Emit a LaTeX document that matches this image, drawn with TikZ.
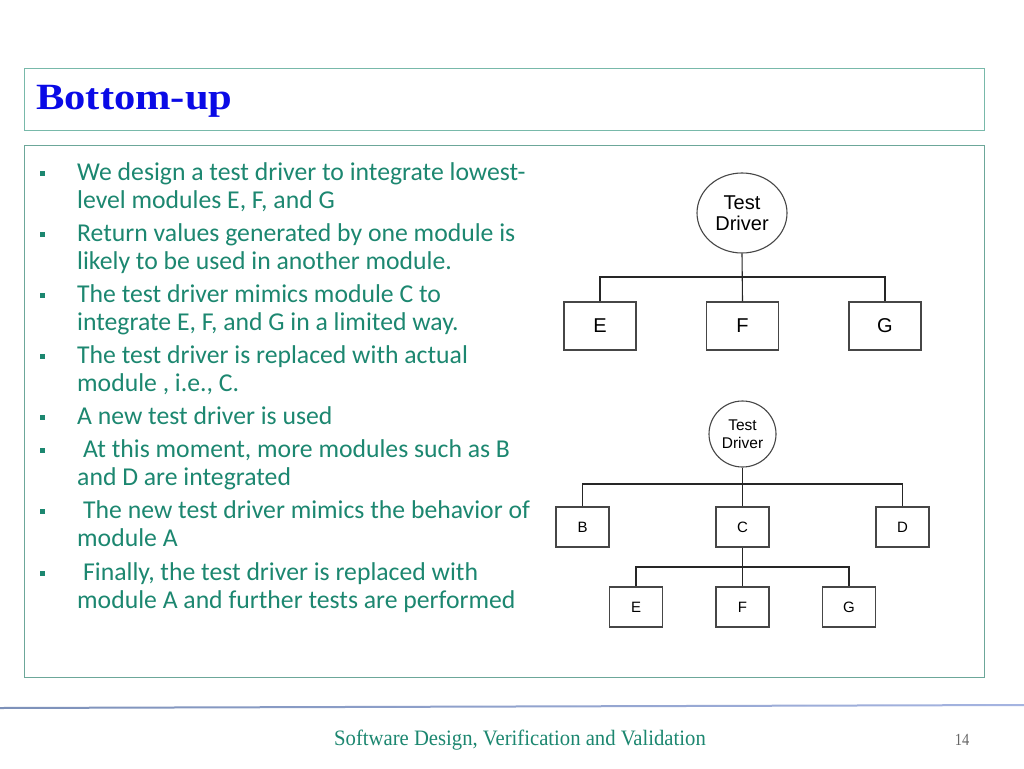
\documentclass[tikz,border=0pt]{standalone}
\usepackage{fontspec}
\setmainfont{Carlito}
\newfontfamily\titlefont{Liberation Serif}
\newfontfamily\diagfont{Liberation Sans}
\usetikzlibrary{shapes.geometric,positioning}

\definecolor{bodyteal}{RGB}{28,135,112}
\definecolor{framecol}{RGB}{120,185,170}
\definecolor{titleblue}{RGB}{10,10,230}
\definecolor{linegray}{RGB}{70,70,70}
\definecolor{rulel}{RGB}{125,145,185}
\definecolor{rulem}{RGB}{70,105,170}
\definecolor{ruler}{RGB}{165,180,225}

\tikzset{
  item/.style={anchor=base west, align=left, inner sep=0pt, text=bodyteal,
    font=\fontsize{25.7}{28}\selectfont},
  modbox/.style={draw=linegray, line width=1.3pt, inner sep=0pt, font=\diagfont},
  bigbox/.style={modbox, minimum width=72, minimum height=48, font=\diagfont\fontsize{20}{22}\selectfont},
  smallbox/.style={modbox, minimum width=53, minimum height=40, font=\diagfont\fontsize{15}{17}\selectfont},
  driver/.style={ellipse, draw=linegray, line width=1.1pt, inner sep=0pt, align=center},
  wire/.style={draw=black!85, line width=1.1pt}
}

\begin{document}
\begin{tikzpicture}[x=1pt,y=-1pt]
  \useasboundingbox (0,0) rectangle (1024,768);
  \fill[white] (0,0) rectangle (1024,768);

  % frames
  \draw[framecol, line width=1pt] (24,68) rectangle (984,130);
  \draw[framecol!90!black, line width=1pt] (24,145) rectangle (984,677);
  \node[anchor=base west, inner sep=0pt, text=titleblue, xscale=1.15,
    font=\titlefont\bfseries\fontsize{37}{40}\selectfont] (title) at (36,109) {Bottom-up};

  % bullets
  \foreach \y in {180,241,302,363,424,457,518,580}
    \fill[bodyteal] (40,\y-9) rectangle ++(5,5);

  % items (anchored at the baseline of their last line)
  \node[item] (item1) at (77,208) {We design a test driver to integrate lowest-\\level modules E, F, and G};
  \node[item] (item2) at (77,269) {Return values generated by one module is\\likely to be used in another module.};
  \node[item] (item3) at (77,330) {The test driver mimics module C to\\integrate E, F, and G in a limited way.};
  \node[item] (item4) at (77,391) {The test driver is replaced with actual\\module , i.e., C.};
  \node[item] (item5) at (77,424) {A new test driver is used};
  \node[item] (item6) at (77,485) {\hspace*{6pt}At this moment, more modules such as B\\and D are integrated};
  \node[item] (item7) at (77,546) {\hspace*{6pt}The new test driver mimics the behavior of\\module A};
  \node[item] (item8) at (77,608) {\hspace*{6pt}Finally, the test driver is replaced with\\module A and further tests are performed};

  % first diagram
  \node[driver, minimum width=90, minimum height=80, font=\diagfont\fontsize{20}{21}\selectfont]
    (drv1) at (742,213) {Test\\Driver};
  \node[bigbox] (E1) at (600,326) {E};
  \node[bigbox] (F1) at (742.5,326) {F};
  \node[bigbox] (G1) at (885,326) {G};
  \coordinate (bus1) at (742,277);
  \draw[wire] (E1.north) |- (bus1) -| (G1.north);
  \draw[wire] (drv1.south) -- (F1.north);

  % second diagram
  \node[driver, minimum width=67, minimum height=66, font=\diagfont\fontsize{15.5}{17.5}\selectfont]
    (drv2) at (742.5,434) {Test\\Driver};
  \node[smallbox] (B2) at (582.5,527) {B};
  \node[smallbox] (C2) at (742.5,527) {C};
  \node[smallbox] (D2) at (902.5,527) {D};
  \node[smallbox] (E2) at (636,607) {E};
  \node[smallbox] (F2) at (742.5,607) {F};
  \node[smallbox] (G2) at (849,607) {G};
  \coordinate (bus2) at (742,484);
  \coordinate (bus3) at (742,567);
  \draw[wire] (B2.north) |- (bus2) -| (D2.north);
  \draw[wire] (drv2.south) -- (C2.north);
  \draw[wire] (E2.north) |- (bus3) -| (G2.north);
  \draw[wire] (C2.south) -- (F2.north);

  % footer
  \shade[left color=rulel, middle color=rulem, right color=ruler]
    (0,707) -- (1024,704) -- (1024,706) -- (0,709) -- cycle;
  \node[anchor=base, inner sep=0pt, text=bodyteal, xscale=0.94,
    font=\titlefont\fontsize{22}{24}\selectfont] (footer) at (520,745) {Software Design, Verification and Validation};
  \node[anchor=base, inner sep=0pt, text=black!60, xscale=0.85,
    font=\titlefont\fontsize{17}{19}\selectfont] (pageno) at (962,745) {14};
\end{tikzpicture}
\end{document}
